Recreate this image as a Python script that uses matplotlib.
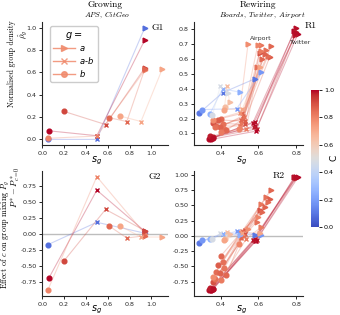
import numpy as np
import matplotlib
matplotlib.use("Agg")
import matplotlib.pyplot as plt
from matplotlib.lines import Line2D

# ---- growing networks (APS, CitGeo): order of points is b, a-b, a ----
grow_C = [0.08, 1.0, 0.80, 0.92, 0.86, 0.72]
grow_s = [
    [0.05, 0.50, 0.94],
    [0.06, 0.50, 0.94],
    [0.05, 0.50, 0.94],
    [0.20, 0.58, 0.94],
    [0.61, 0.775, 0.94],
    [0.71, 0.905, 1.10],
]
grow_rho = [
    [0.00, 0.00, 1.00],
    [0.077, 0.033, 0.89],
    [0.01, 0.03, 0.62],
    [0.25, 0.133, 0.64],
    [0.195, 0.16, 0.63],
    [0.21, 0.16, 0.63],
]
grow_eff = [
    [-0.17, 0.18, 0.01],
    [-0.69, 0.68, 0.04],
    [-0.88, 0.89, 0.00],
    [-0.42, 0.38, 0.05],
    [0.125, -0.065, -0.03],
    [0.125, -0.05, -0.05],
]

# ---- rewiring networks (Boards, Twitter, Airport) ----
rew_C = [
    # twitter
    0.99, 1.0, 0.97, 1.0, 0.98, 0.99,
    # boards
    0.86, 0.84, 0.88, 0.85, 0.83, 0.87, 0.90, 0.86, 0.80, 0.84, 0.82, 0.78,
    # airport
    0.10, 0.18, 0.25, 0.47, 0.65, 0.72,
]
rew_s = [
    [0.34, 0.57, 0.80], [0.35, 0.58, 0.79], [0.36, 0.59, 0.80],
    [0.35, 0.585, 0.81], [0.345, 0.575, 0.795], [0.36, 0.58, 0.80],
    [0.40, 0.515, 0.668], [0.41, 0.52, 0.64], [0.386, 0.527, 0.659],
    [0.374, 0.50, 0.65], [0.42, 0.51, 0.615], [0.395, 0.52, 0.633],
    [0.36, 0.53, 0.606], [0.43, 0.51, 0.62], [0.497, 0.505, 0.597],
    [0.37, 0.525, 0.59], [0.40, 0.535, 0.615], [0.36, 0.50, 0.545],
    [0.285, 0.41, 0.58], [0.303, 0.485, 0.615], [0.342, 0.41, 0.50],
    [0.356, 0.398, 0.44], [0.421, 0.433, 0.448], [0.42, 0.515, 0.606],
]
rew_rho = [
    [0.065, 0.17, 0.81], [0.07, 0.15, 0.79], [0.075, 0.13, 0.78],
    [0.06, 0.115, 0.77], [0.08, 0.14, 0.76], [0.07, 0.18, 0.775],
    [0.20, 0.235, 0.687], [0.16, 0.20, 0.66], [0.19, 0.184, 0.61],
    [0.15, 0.15, 0.62], [0.13, 0.17, 0.69], [0.14, 0.22, 0.63],
    [0.17, 0.16, 0.64], [0.12, 0.19, 0.60], [0.13, 0.14, 0.694],
    [0.14, 0.21, 0.543], [0.11, 0.13, 0.65], [0.19, 0.24, 0.70],
    [0.235, 0.373, 0.466], [0.26, 0.266, 0.51], [0.228, 0.40, 0.377],
    [0.222, 0.417, 0.373], [0.28, 0.417, 0.31], [0.26, 0.266, 0.543],
]
rew_eff = [
    [-0.89, -0.07, 0.97], [-0.88, -0.08, 0.96], [-0.87, -0.06, 0.95],
    [-0.88, -0.09, 0.96], [-0.86, -0.07, 0.97], [-0.87, -0.05, 0.96],
    [-0.33, 0.08, 0.76], [-0.42, 0.05, 0.635], [-0.48, 0.10, 0.61],
    [-0.59, 0.02, 0.55], [-0.53, -0.02, 0.53], [-0.61, 0.06, 0.47],
    [-0.75, 0.03, 0.42], [-0.64, -0.04, 0.39], [-0.14, 0.07, 0.31],
    [-0.70, 0.00, 0.23], [-0.72, -0.05, 0.146], [-0.68, 0.04, 0.12],
    [-0.11, 0.04, 0.02], [-0.07, 0.076, 0.02], [-0.055, 0.03, 0.01],
    [-0.05, 0.05, 0.03], [-0.055, 0.06, 0.04], [-0.06, 0.05, 0.05],
]

group_markers = [">", "x", "o"]      # legend order a, a-b, b
group_labels = ["$a$", "$a$-$b$", "$b$"]
point_markers = ["o", "x", ">"]      # data order b, a-b, a

cmap = plt.get_cmap("coolwarm")
W, H = 340, 315


def rect(l, t, r, b):
    return [l / W, 1 - b / H, (r - l) / W, (b - t) / H]


def style(ax):
    for side in ["top", "right"]:
        ax.spines[side].set_visible(False)
    for side in ["left", "bottom"]:
        ax.spines[side].set_linewidth(0.8)
        ax.spines[side].set_color("#262626")
    ax.tick_params(labelsize=4.6, length=2.5, width=0.7, pad=1.5, colors="#262626")


def draw(ax, C, S, Y, ms=3.4):
    for c, s, y in zip(C, S, Y):
        col = cmap(c)
        ax.plot(s, y, "-", color=col, alpha=0.3, lw=0.8, zorder=1)
    for c, s, y in zip(C, S, Y):
        col = cmap(c)
        for k, m in enumerate(point_markers):
            size = ms if m != "x" else ms * 0.95
            ax.plot(s[k], y[k], m, color=col, ms=size, mew=1.0, zorder=3)


fig = plt.figure(figsize=(W / 100, H / 100), dpi=100)

ax_g1 = fig.add_axes(rect(42, 22, 168, 145))
ax_g2 = fig.add_axes(rect(42, 171, 168, 296))
ax_r1 = fig.add_axes(rect(194, 22, 303, 145))
ax_r2 = fig.add_axes(rect(194, 171, 303, 296))
cax = fig.add_axes(rect(311, 90, 319, 227))

for ax in [ax_g2, ax_r2]:
    ax.axhline(0, color="#bdbdbd", lw=1.0, zorder=0)

draw(ax_g1, grow_C, grow_s, grow_rho)
draw(ax_g2, grow_C, grow_s, grow_eff)
draw(ax_r1, rew_C, rew_s, rew_rho)
draw(ax_r2, rew_C, rew_s, rew_eff)

for ax in [ax_g1, ax_g2, ax_r1, ax_r2]:
    style(ax)
    ax.set_xlabel("$s_g$", fontsize=7, labelpad=0)

ax_g1.xaxis.set_label_coords(0.43, -0.08)
ax_g2.xaxis.set_label_coords(0.43, -0.06)
ax_r1.xaxis.set_label_coords(0.44, -0.08)
ax_r2.xaxis.set_label_coords(0.44, -0.06)

for ax in [ax_g1, ax_g2]:
    ax.set_xticks([0.0, 0.2, 0.4, 0.6, 0.8, 1.0])
ax_g1.set_yticks([0.0, 0.2, 0.4, 0.6, 0.8, 1.0])
ax_g2.set_yticks([-0.75, -0.5, -0.25, 0.0, 0.25, 0.5, 0.75])
for ax in [ax_r1, ax_r2]:
    ax.set_xticks([0.4, 0.6, 0.8])
ax_r1.set_yticks([0.1, 0.2, 0.3, 0.4, 0.5, 0.6, 0.7, 0.8])
ax_r2.set_yticks([-0.75, -0.5, -0.25, 0.0, 0.25, 0.5, 0.75, 1.0])
ax_g2.yaxis.set_major_formatter(matplotlib.ticker.FormatStrFormatter("%.2f"))
ax_r2.yaxis.set_major_formatter(matplotlib.ticker.FormatStrFormatter("%.2f"))

# panel tags
serif = "cmr10"
ax_g1.text(0.917, 0.955, "G1", transform=ax_g1.transAxes, ha="center", va="center",
           family=serif, fontsize=7)
ax_g2.text(0.897, 0.953, "G2", transform=ax_g2.transAxes, ha="center", va="center",
           family=serif, fontsize=7)
ax_r1.text(1.073, 0.97, "R1", transform=ax_r1.transAxes, ha="center", va="center",
           family=serif, fontsize=7)
ax_r2.text(0.773, 0.96, "R2", transform=ax_r2.transAxes, ha="center", va="center",
           family=serif, fontsize=7)

ax_r1.text(0.61, 0.735, "Airport", ha="center", va="center", fontsize=4.5, color="#333333")
ax_r1.text(0.826, 0.712, "Twitter", ha="center", va="center", fontsize=4.5, color="#333333",
           clip_on=False)

# legend
leg_col = "#f08a6c"
handles = [Line2D([0], [0], color=leg_col, marker=m, ms=4, mew=1.0, lw=1.0, alpha=0.85)
           for m in group_markers]
leg = ax_g1.legend(handles, group_labels, title="$g=$", loc="upper left",
                   bbox_to_anchor=(0.03, 1.0), fontsize=6, title_fontsize=7,
                   handlelength=2.6, labelspacing=0.25, borderpad=0.4,
                   handletextpad=0.5, framealpha=1.0)
leg.set_zorder(5)

# column titles
fig.text(105 / W, 1 - 4.5 / H, "Growing", ha="center", va="center", family=serif, fontsize=6.8)
fig.text(107 / W, 1 - 15 / H, r"$\mathit{APS,\ CitGeo}$", ha="center", va="center",
         fontsize=5.4, math_fontfamily="cm")
fig.text(257.5 / W, 1 - 4.5 / H, "Rewiring", ha="center", va="center", family=serif,
         fontsize=6.8)
fig.text(262 / W, 1 - 15 / H, r"$\mathit{Boards,\ Twitter,\ Airport}$", ha="center",
         va="center", fontsize=5.4, math_fontfamily="cm")

# y labels
fig.text(12 / W, 1 - 64 / H, "Normalised group density", rotation=90, ha="center",
         va="center", family=serif, fontsize=5.6)
fig.text(23.5 / W, 1 - 34 / H, r"$\hat{\rho}_g$", rotation=90, ha="center", va="center",
         fontsize=6.3, math_fontfamily="cm")
fig.text(5 / W, 1 - 234 / H, "Effect of $c$ on group mixing $P_g$", rotation=90,
         ha="center", va="center", family=serif, fontsize=5.8, math_fontfamily="cm")
fig.text(16 / W, 1 - 187 / H, r"$P^*-P^*_{c=0}$", rotation=90, ha="center", va="center",
         fontsize=6.2, math_fontfamily="cm")

# colorbar
sm = matplotlib.cm.ScalarMappable(cmap=cmap, norm=matplotlib.colors.Normalize(0, 1))
cb = fig.colorbar(sm, cax=cax)
cb.outline.set_visible(False)
cb.set_ticks([0.0, 0.2, 0.4, 0.6, 0.8, 1.0])
cb.ax.tick_params(labelsize=4.6, length=2, width=0.6, pad=1.5)
fig.text(334 / W, 1 - 158 / H, "C", rotation=90, ha="center", va="center", fontsize=6.5)

fig.savefig("out.png", dpi=100)
